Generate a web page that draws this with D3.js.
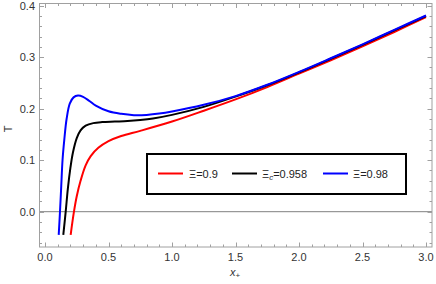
<!DOCTYPE html>
<html><head><meta charset="utf-8">
<script src="https://cdn.jsdelivr.net/npm/d3@7"></script>
<style>body{margin:0;background:#fff}svg{display:block}text{font-family:"Liberation Sans",Arial,sans-serif}</style>
</head><body><svg id="c" width="436" height="284"></svg>
<script>
// Data
const xRed   = [0.202,0.228,0.25,0.28,0.32,0.36,0.42,0.5,0.6,0.75,1.0,1.25,1.5,1.75,2.0,2.25,2.5,2.75,3.0];
const yRed   = [-0.045,0.0,0.03,0.06,0.09,0.108,0.124,0.137,0.147,0.157,0.175,0.196,0.218,0.242,0.268,0.294,0.321,0.349,0.378];
const xBlack = [0.144,0.163,0.18,0.20,0.22,0.25,0.28,0.32,0.38,0.45,0.55,0.65,0.75,0.85,1.0,1.25,1.5,1.75,2.0,2.25,2.5,2.75,3.0];
const yBlack = [-0.045,0.0,0.045,0.085,0.115,0.143,0.158,0.167,0.172,0.174,0.175,0.176,0.178,0.181,0.188,0.2035,0.2235,0.2455,0.2705,0.297,0.324,0.352,0.380];
const xBlue  = [0.108,0.118,0.128,0.138,0.152,0.17,0.195,0.225,0.26,0.3,0.35,0.4,0.5,0.6,0.7,0.8,0.9,1.0,1.25,1.5,1.75,2.0,2.25,2.5,2.75,3.0];
const yBlue  = [-0.045,0.0,0.05,0.1,0.14,0.18,0.21,0.222,0.2255,0.223,0.215,0.206,0.195,0.19,0.1875,0.188,0.1905,0.1945,0.2075,0.2245,0.2465,0.2715,0.298,0.325,0.353,0.381];
const seriesNames = ["Ξ=0.9","Ξc=0.958","Ξ=0.98"];
const seriesColors = ["#ff0000","#000000","#0000ff"];
const xTicks = [0,0.5,1,1.5,2,2.5,3];
const yTicks = [0,0.1,0.2,0.3,0.4];

const svg = d3.select("#c");
const L=39.5, R=432, T=3.5, B=247;
const x = d3.scaleLinear().domain([0,3]).range([45,426]);
const y = d3.scaleLinear().domain([0,0.4]).range([211.7,5.7]);

svg.append("defs").append("clipPath").attr("id","clip")
  .append("rect").attr("x",L).attr("y",T).attr("width",R-L).attr("height",B-T);

// zero line
svg.append("line").attr("x1",L).attr("x2",R).attr("y1",y(0)).attr("y2",y(0))
  .attr("stroke","#808080").attr("stroke-width",1);

// curves
const series = [
  xRed.map((v,i)=>[v,yRed[i]]),
  xBlack.map((v,i)=>[v,yBlack[i]]),
  xBlue.map((v,i)=>[v,yBlue[i]])
];
const line = d3.line().x(d=>x(d[0])).y(d=>y(d[1])).curve(d3.curveCatmullRom.alpha(0.5));
const g = svg.append("g").attr("clip-path","url(#clip)");
series.forEach((s,i)=>{
  g.append("path").attr("d",line(s)).attr("fill","none")
   .attr("stroke",seriesColors[i]).attr("stroke-width",2);
});

// frame
const fc="#a0a0a0";
svg.append("rect").attr("x",L).attr("y",T).attr("width",R-L).attr("height",B-T)
  .attr("fill","none").attr("stroke",fc).attr("stroke-width",1);

// ticks
const xMinor = d3.range(0,3.0001,0.1);
xMinor.forEach(v=>{
  const major = Math.abs(v*2-Math.round(v*2))<1e-6;
  const len = major?4.5:2.5;
  const px = Math.round(x(v))+0.5;
  svg.append("line").attr("x1",px).attr("x2",px).attr("y1",B).attr("y2",B-len).attr("stroke",fc);
  svg.append("line").attr("x1",px).attr("x2",px).attr("y1",T).attr("y2",T+len).attr("stroke",fc);
});
const yMinor = d3.range(-0.06,0.4001,0.02);
yMinor.forEach(v=>{
  const major = Math.abs(v*10-Math.round(v*10))<1e-6;
  const len = major?4.5:2.5;
  const py = Math.round(y(v))+0.5;
  svg.append("line").attr("x1",L).attr("x2",L+len).attr("y1",py).attr("y2",py).attr("stroke",fc);
  svg.append("line").attr("x1",R).attr("x2",R-len).attr("y1",py).attr("y2",py).attr("stroke",fc);
});
const lc="#333";
xTicks.forEach(v=>{
  svg.append("text").attr("x",x(v)).attr("y",261).attr("text-anchor","middle")
    .attr("font-size",11).attr("fill",lc).text(d3.format(".1f")(v));
});
yTicks.forEach(v=>{
  svg.append("text").attr("x",35).attr("y",y(v)+4).attr("text-anchor","end")
    .attr("font-size",11).attr("fill",lc).text(d3.format(".1f")(v));
});

// axis labels
svg.append("text").attr("transform","translate(12,129) rotate(-90)").attr("text-anchor","middle")
  .attr("font-size",11).attr("fill",lc).text("T");
const xl = svg.append("text").attr("x",235).attr("y",276).attr("text-anchor","middle")
  .attr("font-size",11).attr("fill",lc);
xl.append("tspan").attr("font-style","italic").text("x");
xl.append("tspan").attr("font-size",8).attr("dy",2).text("+");

// legend
svg.append("rect").attr("x",147).attr("y",154).attr("width",259).attr("height",40)
  .attr("fill","#fff").attr("stroke","#000").attr("stroke-width",2);
const lx = [158,232,323], tx=[189,262,353];
seriesNames.forEach((n,i)=>{
  svg.append("line").attr("x1",lx[i]).attr("x2",lx[i]+25).attr("y1",173.5).attr("y2",173.5)
    .attr("stroke",seriesColors[i]).attr("stroke-width",2);
  const t = svg.append("text").attr("x",tx[i]).attr("y",177.5).attr("font-size",11).attr("fill","#222");
  if(n.startsWith("Ξc")){
    t.append("tspan").text("Ξ");
    t.append("tspan").attr("font-size",8).attr("font-style","italic").attr("dy",2).text("c");
    t.append("tspan").attr("dy",-2).text(n.slice(2));
  } else t.text(n);
});
</script></body></html>
